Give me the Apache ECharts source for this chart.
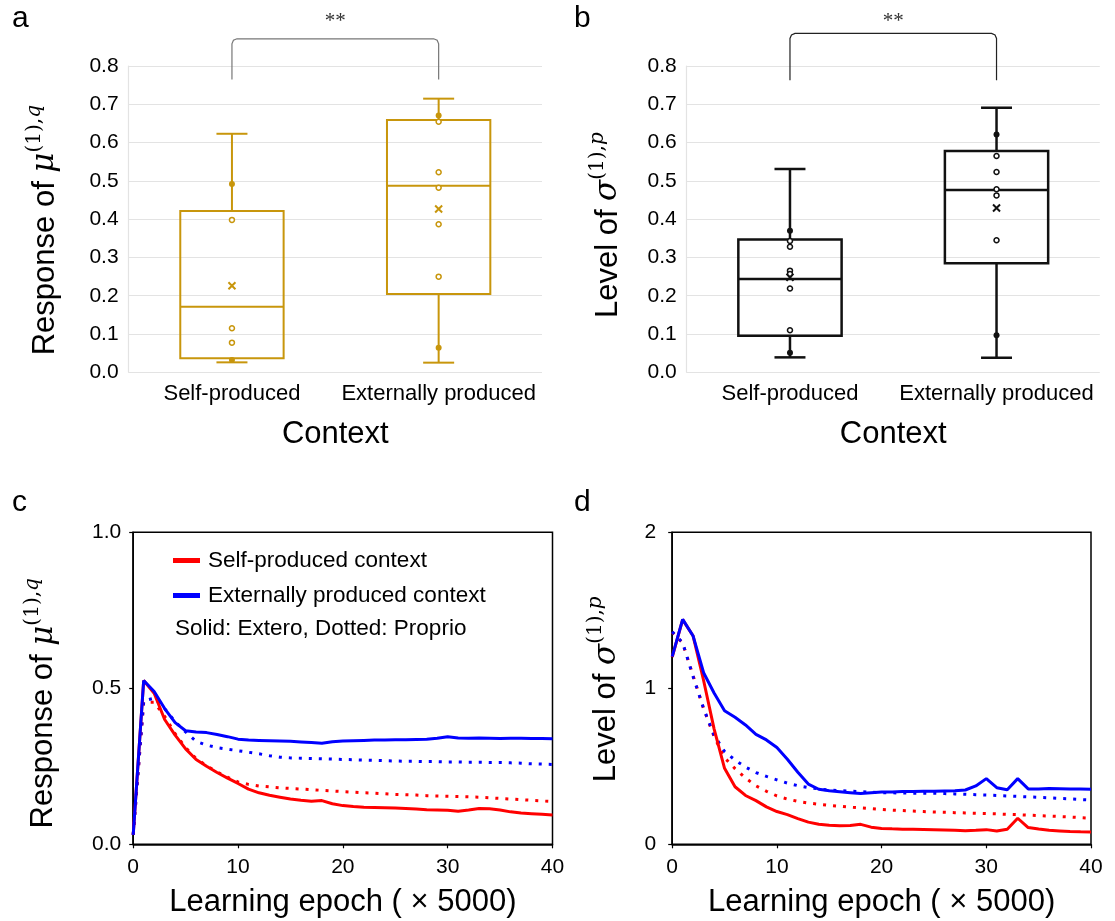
<!DOCTYPE html>
<html>
<head>
<meta charset="utf-8">
<script src="https://cdn.jsdelivr.net/npm/echarts@6/dist/echarts.min.js"></script>
<style>
  html, body { margin: 0; padding: 0; background: #fff; }
  #chart { width: 1115px; height: 921px; }
</style>
</head>
<body>
<div id="chart"></div>
<script>
const SANS = '"Liberation Sans", Arial, Helvetica, sans-serif'
const SERIF = '"DejaVu Serif", serif'
const GOLD = '#C8960C'
const BLACK = '#111111'

// panels a, b: box plots over two contexts
const contexts = ['Self-produced', 'Externally produced']
// [low whisker, q1, median, q3, high whisker]
const boxA = [[0.026, 0.0366, 0.1715, 0.4213, 0.623], [0.0252, 0.2046, 0.4875, 0.659, 0.7147]]
const meanA = [0.226, 0.4265]
const pointsA = [[0.492, 0.398, 0.115, 0.0775, 0.032], [0.671, 0.6546, 0.5223, 0.4823, 0.3865, 0.2498, 0.0644]]

const boxB = [[0.039, 0.0956, 0.244, 0.347, 0.531], [0.038, 0.285, 0.476, 0.578, 0.691]]
const meanB = [0.248, 0.429]
const pointsB = [[0.370, 0.343, 0.328, 0.2655, 0.257, 0.219, 0.110, 0.051], [0.621, 0.565, 0.523, 0.478, 0.462, 0.345, 0.097]]

// significance brackets: [bottom, top, star level]
const bracketA = [0.765, 0.871, 0.915]
const bracketB = [0.763, 0.885, 0.915]

const boxTicks = [0, 0.1, 0.2, 0.3, 0.4, 0.5, 0.6, 0.7, 0.8]

// panels c, d: learning curves
const epochs = [0, 1, 2, 3, 4, 5, 6, 7, 8, 9, 10, 11, 12, 13, 14, 15, 16, 17, 18, 19, 20,
  21, 22, 23, 24, 25, 26, 27, 28, 29, 30, 31, 32, 33, 34, 35, 36, 37, 38, 39, 40]

const selfSolidC = [0.03, 0.525, 0.484, 0.40, 0.35, 0.306, 0.272, 0.25, 0.23, 0.212, 0.195,
  0.177, 0.165, 0.157, 0.151, 0.145, 0.141, 0.138, 0.14, 0.13, 0.124,
  0.121, 0.119, 0.118, 0.117, 0.116, 0.115, 0.113, 0.111, 0.11, 0.109,
  0.106, 0.11, 0.115, 0.114, 0.11, 0.104, 0.10, 0.098, 0.096, 0.094]
const selfDotC = [0.03, 0.455, 0.455, 0.41, 0.355, 0.31, 0.275, 0.252, 0.232, 0.215, 0.20,
  0.192, 0.187, 0.184, 0.181, 0.179, 0.177, 0.175, 0.173, 0.171, 0.169,
  0.167, 0.165, 0.164, 0.162, 0.16, 0.159, 0.158, 0.156, 0.155, 0.154,
  0.153, 0.152, 0.151, 0.149, 0.147, 0.145, 0.143, 0.141, 0.139, 0.137]
const extSolidC = [0.03, 0.525, 0.49, 0.435, 0.39, 0.364, 0.36, 0.358, 0.352, 0.345, 0.337,
  0.334, 0.333, 0.332, 0.331, 0.33, 0.328, 0.326, 0.324, 0.329, 0.331,
  0.332, 0.333, 0.334, 0.334, 0.335, 0.335, 0.336, 0.337, 0.34, 0.345,
  0.341, 0.34, 0.341, 0.34, 0.339, 0.34, 0.34, 0.339, 0.339, 0.338]
const extDotC = [0.03, 0.46, 0.468, 0.435, 0.393, 0.36, 0.33, 0.318, 0.31, 0.305, 0.30,
  0.295, 0.29, 0.284, 0.279, 0.277, 0.276, 0.275, 0.274, 0.273, 0.272,
  0.271, 0.27, 0.269, 0.268, 0.267, 0.266, 0.266, 0.265, 0.265, 0.264,
  0.264, 0.263, 0.263, 0.262, 0.262, 0.261, 0.26, 0.258, 0.257, 0.256]

const selfSolidD = [1.2, 1.44, 1.335, 1.05, 0.74, 0.487, 0.369, 0.313, 0.28, 0.24, 0.21,
  0.19, 0.165, 0.142, 0.128, 0.122, 0.119, 0.12, 0.128, 0.11, 0.102,
  0.099, 0.097, 0.096, 0.095, 0.094, 0.092, 0.09, 0.087, 0.09, 0.094,
  0.085, 0.097, 0.167, 0.107, 0.098, 0.09, 0.086, 0.082, 0.08, 0.079]
const selfDotD = [1.36, 1.29, 1.08, 0.87, 0.69, 0.555, 0.485, 0.425, 0.375, 0.34, 0.31,
  0.29, 0.275, 0.265, 0.257, 0.25, 0.244, 0.238, 0.233, 0.228, 0.223,
  0.219, 0.216, 0.213, 0.21, 0.207, 0.205, 0.203, 0.201, 0.199, 0.197,
  0.195, 0.192, 0.19, 0.187, 0.184, 0.181, 0.178, 0.175, 0.171, 0.167]
const extSolidD = [1.203, 1.442, 1.335, 1.1, 0.97, 0.856, 0.814, 0.765, 0.705, 0.669, 0.62,
  0.545, 0.462, 0.386, 0.353, 0.343, 0.337, 0.331, 0.325, 0.331, 0.335,
  0.336, 0.338, 0.339, 0.34, 0.34, 0.342, 0.344, 0.348, 0.374, 0.421,
  0.363, 0.35, 0.421, 0.355, 0.355, 0.357, 0.356, 0.355, 0.354, 0.353]
const extDotD = [1.363, 1.292, 1.074, 0.87, 0.70, 0.595, 0.54, 0.495, 0.46, 0.435, 0.413,
  0.392, 0.376, 0.364, 0.355, 0.348, 0.344, 0.341, 0.338, 0.334, 0.331,
  0.33, 0.329, 0.328, 0.328, 0.327, 0.325, 0.323, 0.321, 0.318, 0.316,
  0.313, 0.31, 0.307, 0.304, 0.301, 0.298, 0.294, 0.291, 0.287, 0.284]

const legendNames = ['Self-produced context', 'Externally produced context']

const chart = echarts.init(document.getElementById('chart'), null, { renderer: 'canvas' })

function nameRich(tail) {
  return {
    t: { fontSize: 31, fontFamily: SANS, color: '#000', verticalAlign: 'bottom' },
    m: { fontSize: 31, fontFamily: SERIF, fontStyle: 'italic', color: '#000', verticalAlign: 'bottom' },
    s: { fontSize: 20, fontFamily: SERIF, color: '#000', verticalAlign: 'bottom', padding: [0, 0, 16, 0] },
    q: { fontSize: 20, fontFamily: SERIF, fontStyle: 'italic', color: '#000', verticalAlign: 'bottom', padding: [0, 0, 16, 0] },
    g: { fontSize: 20, width: tail, verticalAlign: 'bottom' },
  }
}

function boxRender(color, lw) {
  return function (params, api) {
    const xi = api.value(0)
    const band = api.size([1, 0])[0]
    const cx = api.coord([xi, 0])[0]
    const y = (k) => api.coord([xi, api.value(k)])[1]
    const lo = y(1), q1 = y(2), med = y(3), q3 = y(4), hi = y(5)
    const bw = band * 0.5
    const cw = band * 0.15
    const st = { stroke: color, lineWidth: lw, fill: 'none' }
    return {
      type: 'group',
      children: [
        { type: 'line', shape: { x1: cx, y1: hi, x2: cx, y2: q3 }, style: st },
        { type: 'line', shape: { x1: cx, y1: q1, x2: cx, y2: lo }, style: st },
        { type: 'line', shape: { x1: cx - cw / 2, y1: hi, x2: cx + cw / 2, y2: hi }, style: st },
        { type: 'line', shape: { x1: cx - cw / 2, y1: lo, x2: cx + cw / 2, y2: lo }, style: st },
        { type: 'rect', shape: { x: cx - bw / 2, y: q3, width: bw, height: q1 - q3 }, style: st },
        { type: 'line', shape: { x1: cx - bw / 2, y1: med, x2: cx + bw / 2, y2: med }, style: st },
      ],
    }
  }
}

function bracketRender(color) {
  return function (params, api) {
    const x1 = api.coord([0, 0])[0]
    const x2 = api.coord([1, 0])[0]
    const yb = api.coord([0, api.value(0)])[1]
    const yt = api.coord([0, api.value(1)])[1]
    const ys = api.coord([0, api.value(2)])[1]
    const r = 5
    return {
      type: 'group',
      children: [
        {
          type: 'polyline',
          shape: {
            points: [[x1, yb], [x1, yt + r], [x1 + 1.5, yt + 1.5], [x1 + r, yt],
              [x2 - r, yt], [x2 - 1.5, yt + 1.5], [x2, yt + r], [x2, yb]],
          },
          style: { stroke: color, lineWidth: 1.2, fill: 'none' },
        },
        {
          type: 'text',
          x: (x1 + x2) / 2,
          y: ys,
          style: { text: '**', align: 'center', verticalAlign: 'middle', fontSize: 21, fontFamily: '"Liberation Serif", serif', fill: '#333' },
        },
      ],
    }
  }
}

function boxSeries(idx, boxes, means, points, color, lw, bracket, bracketColor) {
  const hollow = []
  const filled = []
  points.forEach((list, i) => {
    list.forEach((v) => {
      const item = [contexts[i], v]
      if (v > boxes[i][3] || v < boxes[i][1]) filled.push(item)
      else hollow.push(item)
    })
  })
  return [
    {
      type: 'custom',
      xAxisIndex: idx,
      yAxisIndex: idx,
      renderItem: boxRender(color, lw),
      encode: { x: 0, y: [1, 2, 3, 4, 5] },
      data: boxes.map((b, i) => [i, ...b]),
      z: 2,
    },
    {
      type: 'scatter',
      xAxisIndex: idx,
      yAxisIndex: idx,
      symbol: 'circle',
      symbolSize: 5,
      itemStyle: { color: '#fff', borderColor: color, borderWidth: 1.5, opacity: 1 },
      data: hollow,
      z: 3,
    },
    {
      type: 'scatter',
      xAxisIndex: idx,
      yAxisIndex: idx,
      symbol: 'circle',
      symbolSize: 6,
      itemStyle: { color: color, opacity: 1 },
      data: filled,
      z: 3,
    },
    {
      type: 'scatter',
      xAxisIndex: idx,
      yAxisIndex: idx,
      symbol: 'path://M0,0L10,10M10,0L0,10',
      symbolSize: 7,
      itemStyle: { color: 'none', borderColor: color, borderWidth: 2, opacity: 1 },
      data: means.map((m, i) => [contexts[i], m]),
      z: 4,
    },
    {
      type: 'custom',
      xAxisIndex: idx,
      yAxisIndex: idx,
      renderItem: bracketRender(bracketColor),
      encode: { y: [0, 1, 2] },
      data: [bracket],
      clip: false,
      silent: true,
      z: 5,
    },
  ]
}

function lineSeries(idx, name, values, color, dotted) {
  return {
    type: 'line',
    name: name,
    xAxisIndex: idx,
    yAxisIndex: idx,
    showSymbol: false,
    symbol: 'none',
    data: epochs.map((e, i) => [e, values[i]]),
    itemStyle: { color: color },
    lineStyle: { color: color, width: 3, type: dotted ? [3, 7] : 'solid' },
    z: dotted ? 3 : 4,
  }
}

const boxXAxis = (idx) => ({
  type: 'category',
  gridIndex: idx,
  data: contexts,
  axisLine: { show: false },
  axisTick: { show: false },
  axisLabel: { fontSize: 22, fontFamily: SANS, color: '#000', margin: 11, interval: 0 },
  name: 'Context',
  nameLocation: 'middle',
  nameGap: 47,
  nameTextStyle: { fontSize: 31, fontFamily: SANS, color: '#000' },
})

const boxYAxis = (idx, name, gap, tail) => ({
  type: 'value',
  gridIndex: idx,
  min: 0,
  max: 0.8,
  interval: 0.1,
  axisLine: { show: true, lineStyle: { color: '#e3e3e3', width: 1.2 } },
  axisTick: { show: false },
  splitLine: { show: true, lineStyle: { color: '#e3e3e3', width: 1.2 } },
  axisLabel: {
    fontSize: 21, fontFamily: SANS, color: '#000', margin: 10,
    customValues: boxTicks,
    formatter: (v) => v.toFixed(1),
  },
  name: name,
  nameLocation: 'middle',
  nameRotate: 90,
  nameGap: gap,
  nameTextStyle: { rich: nameRich(tail) },
})

const curveXAxis = (idx) => ({
  type: 'value',
  gridIndex: idx,
  min: 0,
  max: 40,
  interval: 10,
  axisLine: { show: true, lineStyle: { color: '#000', width: 1.5 } },
  axisTick: { show: true, length: 4, lineStyle: { color: '#000', width: 1.2 } },
  splitLine: { show: false },
  axisLabel: { fontSize: 21, fontFamily: SANS, color: '#000', margin: 12 },
  name: 'Learning epoch ( × 5000)',
  nameLocation: 'middle',
  nameGap: 43,
  nameTextStyle: { fontSize: 31, fontFamily: SANS, color: '#000' },
})

const curveYAxis = (idx, max, interval, digits, name, gap, margin, tail) => ({
  type: 'value',
  gridIndex: idx,
  min: 0,
  max: max,
  interval: interval,
  axisLine: { show: true, lineStyle: { color: '#000', width: 1.5 } },
  axisTick: { show: true, length: 4, lineStyle: { color: '#000', width: 1.2 } },
  splitLine: { show: false },
  axisLabel: { fontSize: 21, fontFamily: SANS, color: '#000', margin: margin, formatter: (v) => v.toFixed(digits) },
  name: name,
  nameLocation: 'middle',
  nameRotate: 90,
  nameGap: gap,
  nameTextStyle: { rich: nameRich(tail) },
})

const muName = '{t|Response of }{m|μ}{s|(1),}{q|q}{g| }'
const sigmaName = '{t|Level of }{m|σ}{s|(1),}{q|p}{g| }'

const panelLabel = (text, x, y) => ({
  type: 'text',
  left: x,
  top: y,
  style: { text: text, fontSize: 30, fontFamily: SANS, fill: '#000' },
})

const option = {
  animation: false,
  backgroundColor: '#fff',
  grid: [
    { left: 128.6, top: 66, width: 413.4, height: 306.3 },
    { left: 686.7, top: 66, width: 413.1, height: 306.3 },
    { left: 133.2, top: 532.3, width: 419.3, height: 312, show: true, borderColor: '#000', borderWidth: 1.5 },
    { left: 672.2, top: 532.3, width: 418.8, height: 312, show: true, borderColor: '#000', borderWidth: 1.5 },
  ],
  xAxis: [boxXAxis(0), boxXAxis(1), curveXAxis(2), curveXAxis(3)],
  yAxis: [
    boxYAxis(0, muName, 68, 22),
    boxYAxis(1, sigmaName, 63, 12),
    curveYAxis(2, 1, 0.5, 1, muName, 74, 12, 30),
    curveYAxis(3, 2, 1, 0, sigmaName, 50, 16, 2),
  ],
  legend: {
    left: 168,
    top: 544,
    orient: 'vertical',
    icon: 'rect',
    itemWidth: 27,
    itemHeight: 5,
    itemGap: 12,
    selectedMode: false,
    data: legendNames,
    textStyle: { fontSize: 22.5, fontFamily: SANS, color: '#000', padding: [0, 0, 0, 3] },
  },
  graphic: [
    panelLabel('a', 12, 4),
    panelLabel('b', 574, 4),
    panelLabel('c', 12, 488),
    panelLabel('d', 574, 488),
    {
      type: 'text',
      left: 175,
      top: 617,
      style: { text: 'Solid: Extero, Dotted: Proprio', fontSize: 22.5, fontFamily: SANS, fill: '#000' },
    },
  ],
  series: [
    ...boxSeries(0, boxA, meanA, pointsA, GOLD, 2, bracketA, '#777'),
    ...boxSeries(1, boxB, meanB, pointsB, BLACK, 2.5, bracketB, '#222'),
    lineSeries(2, legendNames[0], selfDotC, '#ff0000', true),
    lineSeries(2, legendNames[1], extDotC, '#0000ff', true),
    lineSeries(2, legendNames[0], selfSolidC, '#ff0000', false),
    lineSeries(2, legendNames[1], extSolidC, '#0000ff', false),
    lineSeries(3, legendNames[0], selfDotD, '#ff0000', true),
    lineSeries(3, legendNames[1], extDotD, '#0000ff', true),
    lineSeries(3, legendNames[0], selfSolidD, '#ff0000', false),
    lineSeries(3, legendNames[1], extSolidD, '#0000ff', false),
  ],
}

chart.setOption(option)
</script>
</body>
</html>
